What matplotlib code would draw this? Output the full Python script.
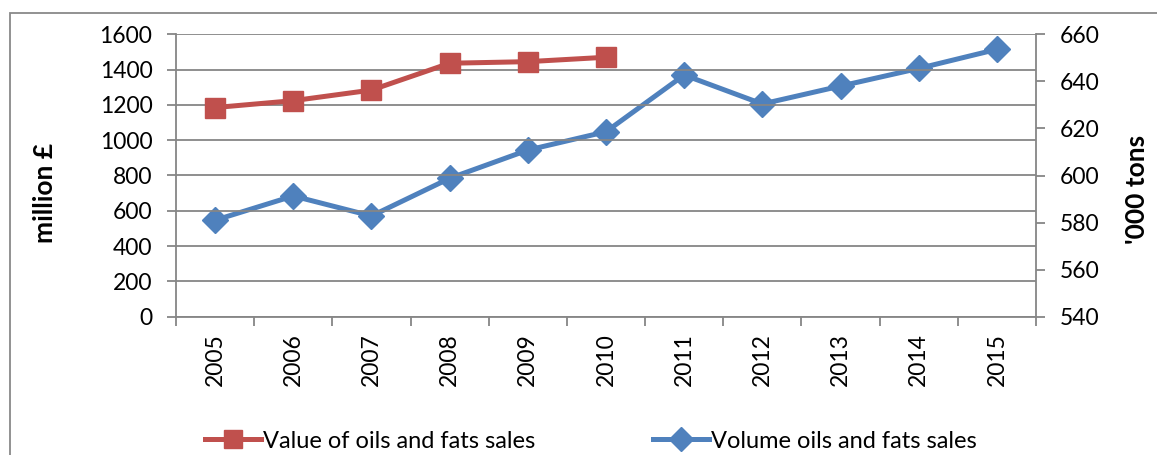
import matplotlib
matplotlib.use("Agg")
import matplotlib.pyplot as plt
from matplotlib.patches import Rectangle
from matplotlib.lines import Line2D
import numpy as np

years = ["2005", "2006", "2007", "2008", "2009", "2010",
         "2011", "2012", "2013", "2014", "2015"]
value_sales = [1185, 1224, 1284, 1436, 1445, 1470]          # million £
volume_sales = [581, 591.3, 582.8, 598.8, 610.8, 618.6,
                642.7, 630.4, 638, 645.5, 653.6]             # '000 tons

RED = "#C0504D"
BLUE = "#4F81BD"
GRID = "#868686"
FONT = "Lato"

plt.rcParams['font.family'] = [FONT, 'DejaVu Sans']

W, H = 1157, 455
fig = plt.figure(figsize=(W / 100, H / 100), dpi=100)

# outer chart border (cropped at right and bottom)
fig.patches.append(Rectangle((10 / W, -0.1), 1.2, 1 - 13 / H + 0.1,
                             transform=fig.transFigure, fill=False,
                             edgecolor="#898989", linewidth=1.3, zorder=0))

left, right = 176 / W, 1036 / W
bottom, top = 1 - 316.7 / H, 1 - 34.3 / H
ax = fig.add_axes([left, bottom, right - left, top - bottom])
ax2 = ax.twinx()

x = np.arange(len(years))
ax.set_xlim(-0.5, len(years) - 0.5)
ax.set_ylim(0, 1600)
ax2.set_ylim(540, 660)

ax.set_yticks(np.arange(0, 1601, 200))
ax2.set_yticks(np.arange(540, 661, 20))
ax.grid(axis='y', color=GRID, linewidth=1.3)
ax.set_axisbelow(True)

TICK_FS = 16.5
ax.set_xticks(x)
ax.set_xticklabels(years, rotation=90)
ax.set_xticks(np.arange(-0.5, len(years)), minor=True)
ax.tick_params(axis='x', which='major', length=0, pad=12, labelsize=TICK_FS)
ax.tick_params(axis='x', which='minor', length=6.5, color=GRID, width=1.3)
ax.tick_params(axis='y', length=6.5, color=GRID, width=1.3, labelsize=TICK_FS, pad=10.5)
ax2.tick_params(axis='y', length=6.5, color=GRID, width=1.3, labelsize=TICK_FS, pad=10.5)

for a in (ax, ax2):
    for s in a.spines.values():
        s.set_visible(False)
for a, side in ((ax, 'left'), (ax, 'bottom'), (ax2, 'right')):
    a.spines[side].set_visible(True)
    a.spines[side].set_color(GRID)
    a.spines[side].set_linewidth(1.3)

ax.plot(x[:len(value_sales)], value_sales, color=RED, linewidth=3.6,
        marker='s', markersize=14, markeredgecolor=RED, zorder=3)
ax2.plot(x, volume_sales, color=BLUE, linewidth=3.6,
         marker='D', markersize=13, markeredgecolor=BLUE, zorder=3)
ax.set_zorder(ax2.get_zorder() + 1)
ax.patch.set_visible(False)

fig.text(45 / W, 1 - 193 / H, "million £", rotation=90, fontsize=19,
         fontweight='bold', ha='center', va='center')
fig.text(1137 / W, 1 - 189 / H, "'000 tons", rotation=90, fontsize=19,
         fontweight='bold', ha='center', va='center')

handles = [Line2D([], [], color=RED, linewidth=3.6, marker='s', markersize=13),
           Line2D([], [], color=BLUE, linewidth=3.6, marker='D', markersize=12)]
fig.legend(handles, ["Value of oils and fats sales", "Volume oils and fats sales"],
           loc='center', bbox_to_anchor=(591 / W, 1 - 441 / H), ncol=2,
           frameon=False, fontsize=17, handlelength=2.35, handletextpad=0.1,
           columnspacing=5.0, borderaxespad=0, borderpad=0)

fig.savefig("out.png", dpi=100)
